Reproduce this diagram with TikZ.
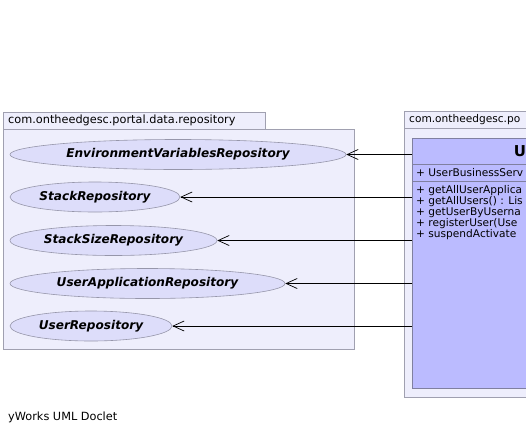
\documentclass[tikz,border=0pt]{standalone}
\usepackage{fontspec}
\setmainfont{DejaVu Sans}
\usetikzlibrary{shapes.geometric,arrows.meta}
\definecolor{pkgfill}{RGB}{238,238,252}
\definecolor{pkgline}{RGB}{160,160,176}
\definecolor{elfill}{RGB}{221,221,250}
\definecolor{elline}{RGB}{150,150,170}
\definecolor{clsfill}{RGB}{187,187,255}
\definecolor{clsline}{RGB}{128,128,160}
\tikzset{
  pkg/.style={draw=pkgline,fill=pkgfill,line width=0.8pt},
  lbl/.style={anchor=west,inner sep=0pt,font=\fontsize{11.3}{13}\selectfont},
  uc/.style={ellipse,draw=elline,fill=elfill,line width=0.6pt,inner sep=0pt,minimum height=30pt,
     font=\fontsize{12.1}{14}\selectfont\bfseries\itshape},
  cls/.style={draw=clsline,fill=clsfill,line width=0.8pt},
  member/.style={anchor=west,inner sep=0pt,font=\fontsize{10.6}{12}\selectfont},
  dep/.style={draw=black,line width=0.8pt,-{Straight Barb[length=11pt,width=10pt,line width=0.7pt]}},
}
\begin{document}
\begin{tikzpicture}[x=1pt,y=-1pt]
\useasboundingbox (0,0) rectangle (526,434);
\clip (0,0) rectangle (526,434);
% left package
\draw[pkg] (3,112) rectangle (265,129);
\node[lbl] (lpt) at (8,120.5) {com.ontheedgesc.portal.data.repository};
\draw[pkg] (3,129) rectangle (354,349);
% right package
\draw[pkg] (404,111) rectangle (560,128);
\node[member] (rpt) at (409,119.5) {com.ontheedgesc.po};
\draw[pkg] (404,128) rectangle (560,397);
% class
\node[cls,anchor=north west,minimum width=150pt,minimum height=250pt,inner sep=0pt] (cls) at (412,138) {};
\draw[clsline,line width=0.8pt] (412,164) -- (560,164);
\draw[clsline,line width=0.8pt] (412,181) -- (560,181);
\node[anchor=center,inner sep=0pt,font=\fontsize{15}{17}\selectfont\bfseries] (cname) at (520,151) {U};
\node[member] (a1) at (416,172.5) {+ UserBusinessServ};
\node[member] (m1) at (416,191) {+ getAllUserApplica};
\node[member] (m2) at (416,202) {+ getAllUsers() : Lis};
\node[member] (m3) at (416,213) {+ getUserByUserna};
\node[member] (m4) at (416,224) {+ registerUser(Use};
\node[member] (m5) at (416,235) {+ suspendActivate};
% use cases
\node[uc,minimum width=336pt] (e1) at (178,154.5) {EnvironmentVariablesRepository};
\node[uc,minimum width=170pt] (e2) at (95,197) {StackRepository};
\node[uc,minimum width=207pt] (e3) at (113.5,240.5) {StackSizeRepository};
\node[uc,minimum width=275pt] (e4) at (147.5,283.5) {UserApplicationRepository};
\node[uc,minimum width=162pt] (e5) at (91,326) {UserRepository};
% dependencies
\foreach \e in {e1,e2,e3,e4,e5}{
  \draw[dep] (cls.west |- \e.east) -- (\e.east);
}
\node[lbl] (foot) at (8,417) {yWorks UML Doclet};
\end{tikzpicture}
\end{document}
